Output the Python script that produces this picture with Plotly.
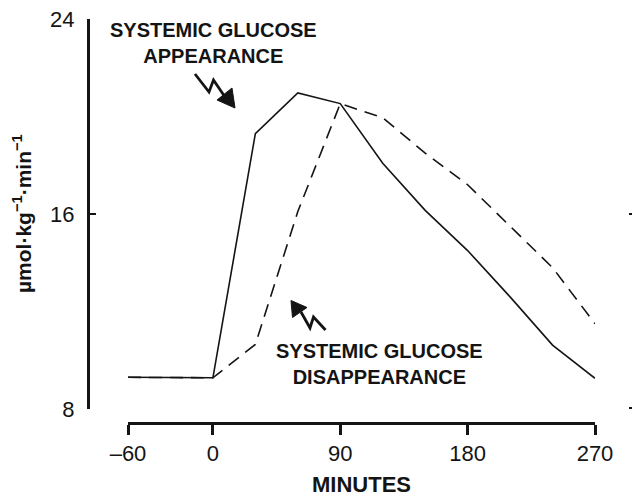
import plotly.graph_objects as go

# ---- data ----
minutes = [-60, 0, 30, 60, 90, 120, 150, 180, 210, 240, 270]
appearance = [9.30, 9.28, 19.30, 20.97, 20.53, 18.08, 16.15, 14.50, 12.60, 10.62, 9.26]
disappearance = [9.30, 9.28, 10.65, 16.10, 20.53, 19.95, 18.50, 17.20, 15.50, 13.80, 11.50]

x_ticks = [-60, 0, 90, 180, 270]
x_tick_labels = ["–60", "0", "90", "180", "270"]
y_ticks = [8, 16, 24]

FONT = "Liberation Sans, Arial, Helvetica, sans-serif"
INK = "#141414"

W, H = 632, 496
ML, MR, MT, MB = 88, 0, 19, 73
PW = W - ML - MR
PH = H - MT - MB
X0_PX, X1_PX = 128, 595      # x-axis line extent
Y_BOT_PX = 409               # value 8 on y-axis


def dx(px):
    return -60 + (px - X0_PX) * 330 / (X1_PX - X0_PX)


def dy(py):
    return 24 - (py - MT) * 16 / (Y_BOT_PX - MT)


def path(points, close=False):
    s = "M " + " L ".join(f"{dx(a):.3f},{dy(b):.3f}" for a, b in points)
    return s + (" Z" if close else "")


fig = go.Figure()
fig.add_trace(go.Scatter(
    x=minutes, y=disappearance, mode="lines",
    line=dict(color=INK, width=1.6, dash="13px,8px"),
    showlegend=False, hoverinfo="skip"))
fig.add_trace(go.Scatter(
    x=minutes, y=appearance, mode="lines",
    line=dict(color=INK, width=1.6),
    showlegend=False, hoverinfo="skip"))
# empty trace so the mirrored right-hand tick axis is drawn
fig.add_trace(go.Scatter(x=[], y=[], yaxis="y2", mode="lines",
                         showlegend=False, hoverinfo="skip"))

shapes = [
    # appearance squiggle arrow
    dict(type="path", xref="x", yref="y",
         path=path([(195, 74), (209, 92), (213.5, 80), (225, 97)]),
         line=dict(color=INK, width=2.8)),
    dict(type="path", xref="x", yref="y",
         path=path([(235, 108), (217, 100), (232, 88)], close=True),
         fillcolor=INK, line=dict(color=INK, width=1)),
    # disappearance squiggle arrow
    dict(type="path", xref="x", yref="y",
         path=path([(301, 312), (310, 328), (313.5, 317), (325.5, 330)]),
         line=dict(color=INK, width=2.8)),
    dict(type="path", xref="x", yref="y",
         path=path([(291, 300.5), (292.5, 317.5), (307, 307.5)], close=True),
         fillcolor=INK, line=dict(color=INK, width=1)),
]

annotations = [
    dict(text="<b>SYSTEMIC GLUCOSE<br>APPEARANCE</b>", xref="x", yref="y",
         x=dx(213.5), y=dy(43), showarrow=False, align="center",
         xanchor="center", yanchor="middle",
         font=dict(family=FONT, size=20, color=INK)),
    dict(text="<b>SYSTEMIC GLUCOSE<br>DISAPPEARANCE</b>", xref="x", yref="y",
         x=dx(379.5), y=dy(364), showarrow=False, align="center",
         xanchor="center", yanchor="middle",
         font=dict(family=FONT, size=20, color=INK)),
    dict(text="<b>MINUTES</b>", xref="paper", yref="paper",
         x=(361.5 - ML) / PW, y=(MT + PH - 485) / PH, showarrow=False,
         xanchor="center", yanchor="middle",
         font=dict(family=FONT, size=22, color=INK)),
    dict(text="<b>µmol·kg<sup>−1</sup>·min<sup>−1</sup></b>", xref="paper", yref="paper",
         x=(22 - ML) / PW, y=(MT + PH - 214) / PH, showarrow=False, textangle=-90,
         xanchor="center", yanchor="middle",
         font=dict(family=FONT, size=21, color=INK)),
]

fig.update_layout(
    width=W, height=H,
    margin=dict(l=ML, r=MR, t=MT, b=MB, pad=0, autoexpand=False),
    paper_bgcolor="white", plot_bgcolor="white",
    font=dict(family=FONT, color=INK),
    showlegend=False,
    xaxis=dict(
        domain=[(X0_PX - ML) / PW, (X1_PX - ML) / PW],
        range=[-60, 270], anchor="free", position=0,
        showline=True, linewidth=3, linecolor=INK,
        ticks="outside", ticklen=10, tickwidth=3, tickcolor=INK,
        tickvals=x_ticks, ticktext=x_tick_labels,
        tickfont=dict(family=FONT, size=22, color=INK),
        ticklabelstandoff=0,
        showgrid=False, zeroline=False, fixedrange=True, automargin=False),
    yaxis=dict(
        domain=[(MT + PH - Y_BOT_PX) / PH, 1],
        range=[8, 24], anchor="free", position=0,
        showline=True, linewidth=3, linecolor=INK,
        ticks="inside", ticklen=6, tickwidth=2, tickcolor=INK,
        tickvals=y_ticks,
        tickfont=dict(family=FONT, size=22, color=INK),
        ticklabelstandoff=8,
        showgrid=False, zeroline=False, fixedrange=True, automargin=False),
    yaxis2=dict(
        overlaying="y", side="right", anchor="free", position=1,
        range=[7.95, 24.02], tickvals=y_ticks,
        ticks="inside", ticklen=3, tickwidth=1.5, tickcolor=INK,
        showticklabels=False, showline=False, showgrid=False, zeroline=False,
        fixedrange=True, automargin=False),
    shapes=shapes,
    annotations=annotations,
)

fig.write_html("out.html")
